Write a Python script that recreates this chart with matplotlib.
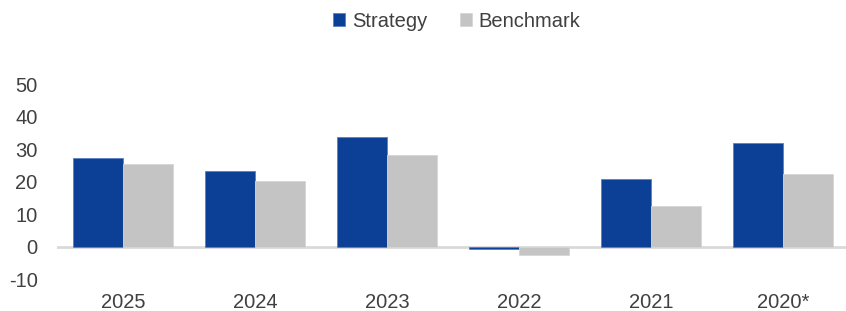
import matplotlib.pyplot as plt
import numpy as np

categories = ["2025", "2024", "2023", "2022", "2021", "2020*"]
strategy = [27.3, 23.3, 33.8, -0.8, 20.8, 31.9]
benchmark = [25.5, 20.2, 28.2, -2.6, 12.5, 22.4]
yticks = [-10, 0, 10, 20, 30, 40, 50]

plt.rcParams['font.family'] = ['Liberation Sans', 'DejaVu Sans']
text_color = '#404040'
fs = 14.5

fig = plt.figure(figsize=(8.46, 3.11), dpi=100)
ax = fig.add_axes([0.0674, 0.081, 0.936, 0.700])

x = np.arange(len(categories))
w = 0.379
ax.bar(x - w/2, strategy, w, color='#0c4096', edgecolor='#5b7fc4', linewidth=0.6, label='Strategy', zorder=2)
ax.bar(x + w/2, benchmark, w, color='#c4c4c4', edgecolor='#d6d6d6', linewidth=0.6, label='Benchmark', zorder=2)
ax.axhline(0, color='#d9d9d9', lw=2, zorder=1)

ax.set_xlim(-0.5, 5.5)
ax.set_ylim(-12, 55)
ax.set_yticks(yticks)
ax.set_yticklabels([str(t) for t in yticks])
ax.set_xticks(x)
ax.set_xticklabels(categories)
ax.tick_params(axis='both', length=0, labelsize=fs, colors=text_color)
ax.tick_params(axis='x', pad=5)
ax.tick_params(axis='y', pad=14)
for s in ax.spines.values():
    s.set_visible(False)

fig.legend(loc='upper center', bbox_to_anchor=(0.54, 1.02), ncol=2, frameon=False,
           fontsize=fs, handlelength=0.6, handleheight=0.6, handletextpad=0.35,
           columnspacing=1.6, labelcolor=text_color)

fig.savefig('out.png', dpi=100)
